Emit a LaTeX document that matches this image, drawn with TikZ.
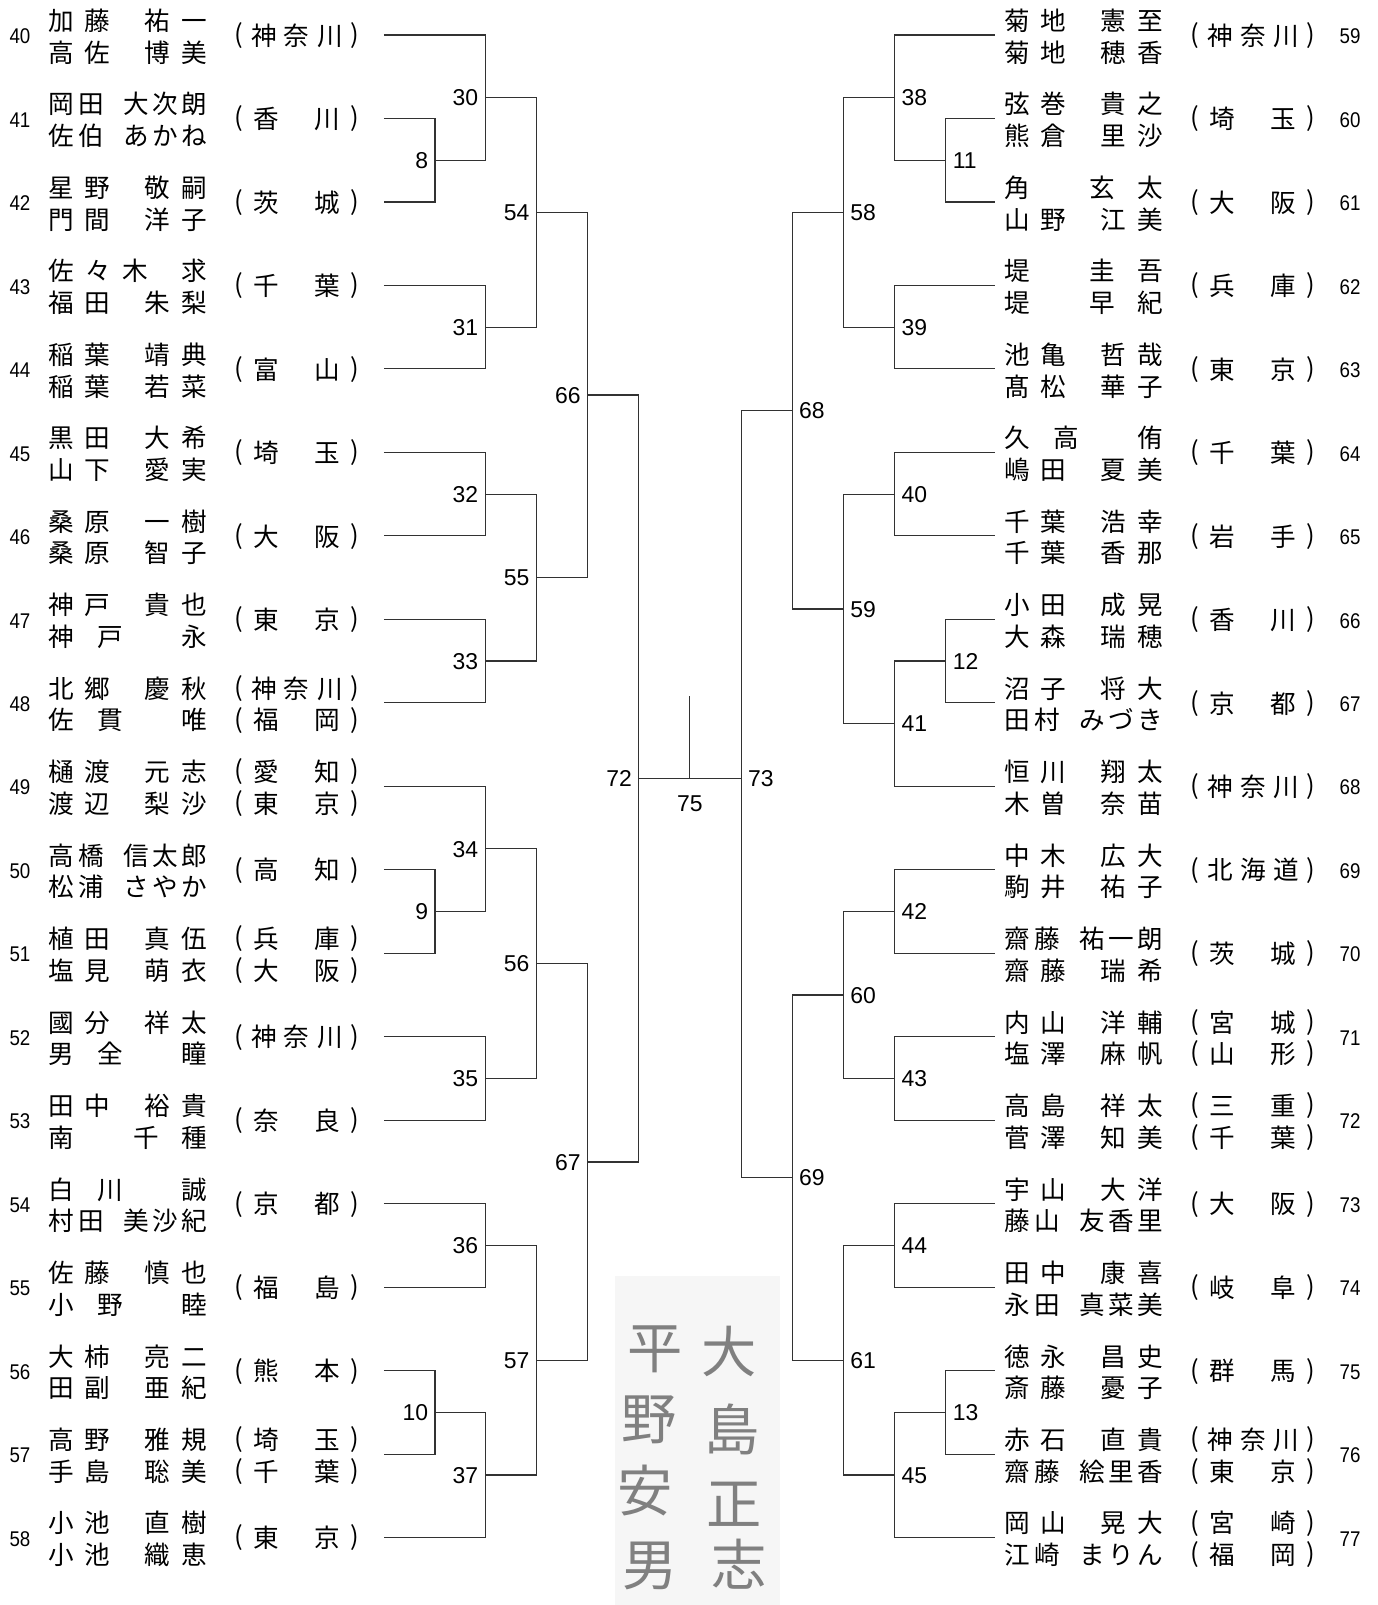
\documentclass[tikz,border=0pt]{standalone}
\usepackage{fontspec}
\usepackage{graphicx}
\newfontfamily\jp{Noto Sans CJK JP}
\newfontfamily\lat{Liberation Sans}
\definecolor{sigbg}{RGB}{246,246,246}
\definecolor{brc}{RGB}{50,50,50}
\newcommand\ctr[1]{\makebox[0pt][c]{#1}}
\newcommand\nmA[4]{\ctr{#1}\kern17.9pt\ctr{#2}\kern29.35pt\ctr{#3}\kern17.75pt\ctr{#4}}
\newcommand\nmB[5]{\ctr{#1}\kern14.65pt\ctr{#2}\kern22pt\ctr{#3}\kern14.2pt\ctr{#4}\kern14.15pt\ctr{#5}}
\newcommand\nmC[4]{\ctr{#1}\kern18.4pt\ctr{#2}\kern17.9pt\ctr{#3}\kern28.7pt\ctr{#4}}
\newcommand\nmD[3]{\ctr{#1}\kern24.1pt\ctr{#2}\kern40.9pt\ctr{#3}}
\newcommand\nmE[3]{\ctr{#1}\kern41.5pt\ctr{#2}\kern23.5pt\ctr{#3}}
\newcommand\opp{\ctr{\raisebox{0.9pt}{(}}}
\newcommand\clp{\ctr{\raisebox{0.9pt}{)}}}
\newcommand\prT[3]{\opp\kern12.3pt\ctr{#1}\kern15.9pt\ctr{#2}\kern16.25pt\ctr{#3}\kern12.2pt\clp}
\newcommand\prD[2]{\opp\kern13.5pt\ctr{#1}\kern29.75pt\ctr{#2}\kern13.4pt\clp}
\newcommand\Lrow[5]{%
 \pgfmathsetmacro\ry{34.2+81.55*#1}%
 \coordinate (e#2) at (375,\ry);
 \node[rnum] (ln#2) at (19.5,\ry+8.5) {\scalebox{0.88}[1]{#2}};
 \node[nm] (la#2) at (59.5,\ry-4.5) {#3};
 \node[nm] (lb#2) at (59.5,\ry+26.5) {#4};
 \node[nm] (lp#2) at (233.5,\ry+10) {#5};
}
\newcommand\LrowT[6]{%
 \pgfmathsetmacro\ry{34.2+81.55*#1}%
 \coordinate (e#2) at (375,\ry);
 \node[rnum] (ln#2) at (19.5,\ry+8.5) {\scalebox{0.88}[1]{#2}};
 \node[nm] (la#2) at (59.5,\ry-4.5) {#3};
 \node[nm] (lb#2) at (59.5,\ry+26.5) {#4};
 \node[nm] (lp#2) at (233.5,\ry-4.5) {#5};
 \node[nm] (lq#2) at (233.5,\ry+26.5) {#6};
}
\newcommand\Rrow[5]{%
 \pgfmathsetmacro\ry{34.2+81.55*#1}%
 \coordinate (e#2) at (972,\ry);
 \node[rnum] (rn#2) at (1319,\ry+8.5) {\scalebox{0.88}[1]{#2}};
 \node[nm] (ra#2) at (993.5,\ry-4.5) {#3};
 \node[nm] (rb#2) at (993.5,\ry+26.5) {#4};
 \node[nm] (rp#2) at (1167.5,\ry+10) {#5};
}
\newcommand\RrowT[6]{%
 \pgfmathsetmacro\ry{34.2+81.55*#1}%
 \coordinate (e#2) at (972,\ry);
 \node[rnum] (rn#2) at (1319,\ry+8.5) {\scalebox{0.88}[1]{#2}};
 \node[nm] (ra#2) at (993.5,\ry-4.5) {#3};
 \node[nm] (rb#2) at (993.5,\ry+26.5) {#4};
 \node[nm] (rp#2) at (1167.5,\ry-4.5) {#5};
 \node[nm] (rq#2) at (1167.5,\ry+26.5) {#6};
}
\begin{document}
\begin{tikzpicture}[x=0.5pt,y=-0.5pt,
  nm/.style={anchor=base west, inner sep=0pt, outer sep=0pt, font=\jp\fontsize{12.5pt}{13pt}\selectfont},
  rnum/.style={anchor=base, inner sep=0pt, outer sep=0pt, font=\lat\fontsize{10.4pt}{11pt}\selectfont},
  lblL/.style={anchor=base east, inner sep=0pt, xshift=-3.2pt, yshift=-4pt, font=\lat\fontsize{11.2pt}{12pt}\selectfont},
  lblR/.style={anchor=base west, inner sep=0pt, xshift=3.2pt, yshift=-4pt, font=\lat\fontsize{11.2pt}{12pt}\selectfont},
  lblB/.style={anchor=base, inner sep=0pt, yshift=-16.2pt, font=\lat\fontsize{11.2pt}{12pt}\selectfont},
  br/.style={line width=0.55pt, draw=brc},
  sig/.style={inner sep=0pt, text=black!50, font=\jp\fontsize{27pt}{30pt}\selectfont}]
\fill[white] (0,0) rectangle (1346,1568);
\useasboundingbox (0,0) rectangle (1346,1568);
\fill[sigbg] (601,1247) rectangle (762,1568);

% ---------- left entries ----------
\Lrow{0}{40}{\nmA{加}{藤}{祐}{一}}{\nmA{高}{佐}{博}{美}}{\prT{神}{奈}{川}}
\Lrow{1}{41}{\nmB{岡}{田}{大}{次}{朗}}{\nmB{佐}{伯}{あ}{か}{ね}}{\prD{香}{川}}
\Lrow{2}{42}{\nmA{星}{野}{敬}{嗣}}{\nmA{門}{間}{洋}{子}}{\prD{茨}{城}}
\Lrow{3}{43}{\nmC{佐}{々}{木}{求}}{\nmA{福}{田}{朱}{梨}}{\prD{千}{葉}}
\Lrow{4}{44}{\nmA{稲}{葉}{靖}{典}}{\nmA{稲}{葉}{若}{菜}}{\prD{富}{山}}
\Lrow{5}{45}{\nmA{黒}{田}{大}{希}}{\nmA{山}{下}{愛}{実}}{\prD{埼}{玉}}
\Lrow{6}{46}{\nmA{桑}{原}{一}{樹}}{\nmA{桑}{原}{智}{子}}{\prD{大}{阪}}
\Lrow{7}{47}{\nmA{神}{戸}{貴}{也}}{\nmD{神}{戸}{永}}{\prD{東}{京}}
\LrowT{8}{48}{\nmA{北}{郷}{慶}{秋}}{\nmD{佐}{貫}{唯}}{\prT{神}{奈}{川}}{\prD{福}{岡}}
\LrowT{9}{49}{\nmA{樋}{渡}{元}{志}}{\nmA{渡}{辺}{梨}{沙}}{\prD{愛}{知}}{\prD{東}{京}}
\Lrow{10}{50}{\nmB{高}{橋}{信}{太}{郎}}{\nmB{松}{浦}{さ}{や}{か}}{\prD{高}{知}}
\LrowT{11}{51}{\nmA{植}{田}{真}{伍}}{\nmA{塩}{見}{萌}{衣}}{\prD{兵}{庫}}{\prD{大}{阪}}
\Lrow{12}{52}{\nmA{國}{分}{祥}{太}}{\nmD{男}{全}{瞳}}{\prT{神}{奈}{川}}
\Lrow{13}{53}{\nmA{田}{中}{裕}{貴}}{\nmE{南}{千}{種}}{\prD{奈}{良}}
\Lrow{14}{54}{\nmD{白}{川}{誠}}{\nmB{村}{田}{美}{沙}{紀}}{\prD{京}{都}}
\Lrow{15}{55}{\nmA{佐}{藤}{慎}{也}}{\nmD{小}{野}{睦}}{\prD{福}{島}}
\Lrow{16}{56}{\nmA{大}{柿}{亮}{二}}{\nmA{田}{副}{亜}{紀}}{\prD{熊}{本}}
\LrowT{17}{57}{\nmA{高}{野}{雅}{規}}{\nmA{手}{島}{聡}{美}}{\prD{埼}{玉}}{\prD{千}{葉}}
\Lrow{18}{58}{\nmA{小}{池}{直}{樹}}{\nmA{小}{池}{織}{恵}}{\prD{東}{京}}

% ---------- right entries ----------
\Rrow{0}{59}{\nmA{菊}{地}{憲}{至}}{\nmA{菊}{地}{穂}{香}}{\prT{神}{奈}{川}}
\Rrow{1}{60}{\nmA{弦}{巻}{貴}{之}}{\nmA{熊}{倉}{里}{沙}}{\prD{埼}{玉}}
\Rrow{2}{61}{\nmE{角}{玄}{太}}{\nmA{山}{野}{江}{美}}{\prD{大}{阪}}
\Rrow{3}{62}{\nmE{堤}{圭}{吾}}{\nmE{堤}{早}{紀}}{\prD{兵}{庫}}
\Rrow{4}{63}{\nmA{池}{亀}{哲}{哉}}{\nmA{髙}{松}{華}{子}}{\prD{東}{京}}
\Rrow{5}{64}{\nmD{久}{高}{侑}}{\nmA{嶋}{田}{夏}{美}}{\prD{千}{葉}}
\Rrow{6}{65}{\nmA{千}{葉}{浩}{幸}}{\nmA{千}{葉}{香}{那}}{\prD{岩}{手}}
\Rrow{7}{66}{\nmA{小}{田}{成}{晃}}{\nmA{大}{森}{瑞}{穂}}{\prD{香}{川}}
\Rrow{8}{67}{\nmA{沼}{子}{将}{大}}{\nmB{田}{村}{み}{づ}{き}}{\prD{京}{都}}
\Rrow{9}{68}{\nmA{恒}{川}{翔}{太}}{\nmA{木}{曽}{奈}{苗}}{\prT{神}{奈}{川}}
\Rrow{10}{69}{\nmA{中}{木}{広}{大}}{\nmA{駒}{井}{祐}{子}}{\prT{北}{海}{道}}
\Rrow{11}{70}{\nmB{齋}{藤}{祐}{一}{朗}}{\nmA{齋}{藤}{瑞}{希}}{\prD{茨}{城}}
\RrowT{12}{71}{\nmA{内}{山}{洋}{輔}}{\nmA{塩}{澤}{麻}{帆}}{\prD{宮}{城}}{\prD{山}{形}}
\RrowT{13}{72}{\nmA{高}{島}{祥}{太}}{\nmA{菅}{澤}{知}{美}}{\prD{三}{重}}{\prD{千}{葉}}
\Rrow{14}{73}{\nmA{宇}{山}{大}{洋}}{\nmB{藤}{山}{友}{香}{里}}{\prD{大}{阪}}
\Rrow{15}{74}{\nmA{田}{中}{康}{喜}}{\nmB{永}{田}{真}{菜}{美}}{\prD{岐}{阜}}
\Rrow{16}{75}{\nmA{徳}{永}{昌}{史}}{\nmA{斎}{藤}{憂}{子}}{\prD{群}{馬}}
\RrowT{17}{76}{\nmA{赤}{石}{直}{貴}}{\nmB{齋}{藤}{絵}{里}{香}}{\prT{神}{奈}{川}}{\prD{東}{京}}
\RrowT{18}{77}{\nmA{岡}{山}{晃}{大}}{\nmB{江}{崎}{ま}{り}{ん}}{\prD{宮}{崎}}{\prD{福}{岡}}

% ---------- match points ----------
\coordinate (m8) at (425,156.5);
\coordinate (m9) at (425,890.5);
\coordinate (m10) at (425,1379.8);
\coordinate (m30) at (474,95.4);
\coordinate (m31) at (474,319.6);
\coordinate (m32) at (474,482.7);
\coordinate (m33) at (474,645.8);
\coordinate (m34) at (474,829.3);
\coordinate (m35) at (474,1053.6);
\coordinate (m36) at (474,1216.7);
\coordinate (m37) at (474,1441.0);
\coordinate (m54) at (524,207.5);
\coordinate (m55) at (524,564.3);
\coordinate (m56) at (524,941.5);
\coordinate (m57) at (524,1328.8);
\coordinate (m66) at (574,385.9);
\coordinate (m67) at (574,1135.2);
\coordinate (m72) at (624,760.5);
\coordinate (m11) at (924,156.5);
\coordinate (m12) at (924,645.8);
\coordinate (m13) at (924,1379.8);
\coordinate (m38) at (874,95.4);
\coordinate (m39) at (874,319.6);
\coordinate (m40) at (874,482.7);
\coordinate (m41) at (874,707.0);
\coordinate (m42) at (874,890.5);
\coordinate (m43) at (874,1053.6);
\coordinate (m44) at (874,1216.7);
\coordinate (m45) at (874,1441.0);
\coordinate (m58) at (824,207.5);
\coordinate (m59) at (824,594.9);
\coordinate (m60) at (824,972.0);
\coordinate (m61) at (824,1328.8);
\coordinate (m68) at (774,401.2);
\coordinate (m69) at (774,1150.4);
\coordinate (m73) at (724,760.5);
\coordinate (m75) at (674,760.5);
\coordinate (top75) at (674,680);

% ---------- bracket lines ----------
\draw[br] (e41) -| (m8) |- (e42);
\draw[br] (e40) -| (m30) |- (m8);
\draw[br] (e43) -| (m31) |- (e44);
\draw[br] (m30) -| (m54) |- (m31);
\draw[br] (e45) -| (m32) |- (e46);
\draw[br] (e47) -| (m33) |- (e48);
\draw[br] (m32) -| (m55) |- (m33);
\draw[br] (m54) -| (m66) |- (m55);
\draw[br] (e50) -| (m9) |- (e51);
\draw[br] (e49) -| (m34) |- (m9);
\draw[br] (e52) -| (m35) |- (e53);
\draw[br] (m34) -| (m56) |- (m35);
\draw[br] (e54) -| (m36) |- (e55);
\draw[br] (e56) -| (m10) |- (e57);
\draw[br] (m10) -| (m37) |- (e58);
\draw[br] (m36) -| (m57) |- (m37);
\draw[br] (m56) -| (m67) |- (m57);
\draw[br] (m66) -| (m72) |- (m67);
\draw[br] (e60) -| (m11) |- (e61);
\draw[br] (e59) -| (m38) |- (m11);
\draw[br] (e62) -| (m39) |- (e63);
\draw[br] (m38) -| (m58) |- (m39);
\draw[br] (e64) -| (m40) |- (e65);
\draw[br] (e66) -| (m12) |- (e67);
\draw[br] (m12) -| (m41) |- (e68);
\draw[br] (m40) -| (m59) |- (m41);
\draw[br] (m58) -| (m68) |- (m59);
\draw[br] (e69) -| (m42) |- (e70);
\draw[br] (e71) -| (m43) |- (e72);
\draw[br] (m42) -| (m60) |- (m43);
\draw[br] (e73) -| (m44) |- (e74);
\draw[br] (e75) -| (m13) |- (e76);
\draw[br] (m13) -| (m45) |- (e77);
\draw[br] (m44) -| (m61) |- (m45);
\draw[br] (m60) -| (m69) |- (m61);
\draw[br] (m68) -| (m73) |- (m69);
\draw[br] (m72) -- (m73);
\draw[br] (top75) -- (m75);

% ---------- match labels ----------
\foreach \m in {8,9,10,30,31,32,33,34,35,36,37,54,55,56,57,66,67,72}
  \node[lblL] (t\m) at (m\m) {\m};
\foreach \m in {11,12,13,38,39,40,41,42,43,44,45,58,59,60,61,68,69,73}
  \node[lblR] (t\m) at (m\m) {\m};
\node[lblB] (t75) at (m75) {75};

% ---------- signatures ----------
\node[sig] (sl1) at (640,1318) {平};
\node[sig] (sl2) at (634,1387) {野};
\node[sig] (sl3) at (630,1456) {安};
\node[sig] (sl4) at (635,1530) {男};
\node[sig] (sr1) at (712,1320) {大};
\node[sig] (sr2) at (715,1396) {島};
\node[sig] (sr3) at (717,1470) {正};
\node[sig] (sr4) at (722,1528) {志};
\end{tikzpicture}
\end{document}
